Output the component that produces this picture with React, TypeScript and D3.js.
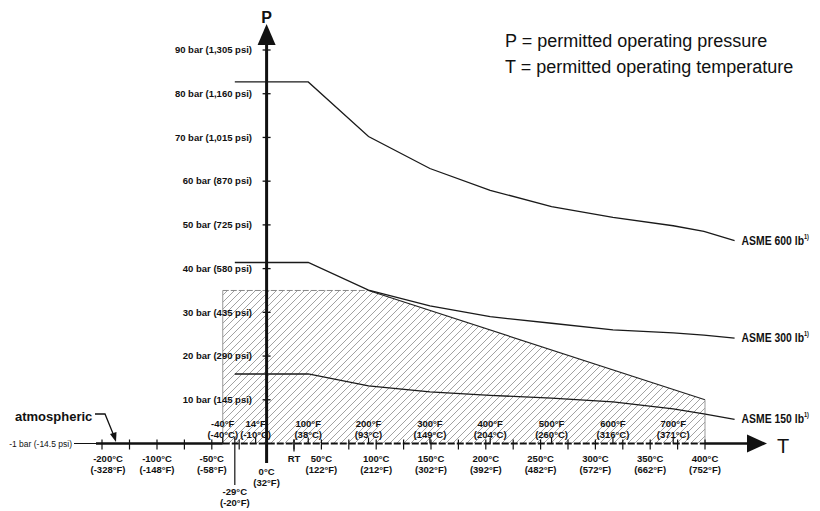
import React from "react";
import * as d3 from "d3";

// ---- data ----
const curveTemps = [-29, 38, 93, 149, 204, 260, 316, 371, 399, 427];
const asme600 = [82.7, 82.7, 70.2, 62.9, 57.9, 54.2, 51.7, 49.8, 48.5, 46.4];
const asme300 = [41.4, 41.4, 35.1, 31.5, 29.0, 27.5, 26.0, 25.3, 24.8, 24.1];
const asme150 = [15.9, 15.9, 13.2, 11.8, 11.0, 10.4, 9.5, 7.9, 6.8, 5.5];
const curveNames = ["ASME 600 lb", "ASME 300 lb", "ASME 150 lb"];

const hatchTemps = [-40, -40, 93, 400, 400];
const hatchP = [0, 35, 35, 10, 0];

const pTicks = [10, 20, 30, 40, 50, 60, 70, 80, 90];
const pLabels = [
  "10 bar (145 psi)",
  "20 bar (290 psi)",
  "30 bar (435 psi)",
  "40 bar (580 psi)",
  "50 bar (725 psi)",
  "60 bar (870 psi)",
  "70 bar (1,015 psi)",
  "80 bar (1,160 psi)",
  "90 bar (1,305 psi)",
];

const cTicks = [-200, -100, -50, 0, 50, 100, 150, 200, 250, 300, 350, 400];
const cLabels = ["-200°C", "-100°C", "-50°C", "0°C", "50°C", "100°C", "150°C", "200°C", "250°C", "300°C", "350°C", "400°C"];
const cLabelsF = ["(-328°F)", "(-148°F)", "(-58°F)", "(32°F)", "(122°F)", "(212°F)", "(302°F)", "(392°F)", "(482°F)", "(572°F)", "(662°F)", "(752°F)"];
const minorTicks = [-150, -75, -25, 25, 75, 125, 175, 225, 275, 325, 375];

const fTemps = [-40, -10, 38, 93, 149, 204, 260, 316, 371];
const fLabels = ["-40°F", "14°F", "100°F", "200°F", "300°F", "400°F", "500°F", "600°F", "700°F"];
const fLabelsC = ["(-40°C)", "(-10°C)", "(38°C)", "(93°C)", "(149°C)", "(204°C)", "(260°C)", "(316°C)", "(371°C)"];

const rtTemp = 25;
const minTemp = -29;
const axisLabel = "-1 bar (-14.5 psi)";

const FONT = "'Liberation Sans', Arial, Helvetica, sans-serif";

export default function App() {
  const W = 820;
  const H = 511;
  // broken temperature axis: -200..-100 compressed
  const x = d3.scaleLinear().domain([-200, -100, 400]).range([102, 157, 705]);
  const y = d3.scaleLinear().domain([0, 90]).range([443.5, 50]);
  const x0 = x(0);
  const yAxis = y(0);

  const line = d3
    .line<[number, number]>()
    .x((d) => x(d[0]))
    .y((d) => y(d[1]));

  const series = [asme600, asme300, asme150];
  const hatchPts: [number, number][] = hatchTemps.map((t, i) => [t, hatchP[i]]);

  return (
    <svg
      width={W}
      height={H}
      viewBox={`0 0 ${W} ${H}`}
      style={{ position: "absolute", left: 0, top: 0, background: "#fff" }}
      fontFamily={FONT}
    >
      <defs>
        <pattern id="hatch" patternUnits="userSpaceOnUse" width={7} height={7}>
          <path d="M-1,1 l2,-2 M0,7 l7,-7 M6,8 l2,-2" stroke="#8a8a8a" strokeWidth={0.8} />
        </pattern>
      </defs>
      <rect x={0} y={0} width={W} height={H} fill="#fff" />

      {/* hatched permitted region */}
      <path d={line(hatchPts) + "Z"} fill="url(#hatch)" stroke="none" />
      <line x1={x(hatchTemps[0])} x2={x(hatchTemps[1])} y1={y(hatchP[0])} y2={y(hatchP[1])} stroke="#999" strokeWidth={1} />
      <line x1={x(hatchTemps[1])} x2={x(hatchTemps[2])} y1={y(hatchP[1])} y2={y(hatchP[2])} stroke="#888" strokeWidth={1} strokeDasharray="6 2" />
      <line x1={x(hatchTemps[2])} x2={x(hatchTemps[3])} y1={y(hatchP[2])} y2={y(hatchP[3])} stroke="#222" strokeWidth={1.2} />
      <line x1={x(hatchTemps[3])} x2={x(hatchTemps[4])} y1={y(hatchP[3])} y2={y(hatchP[4])} stroke="#999" strokeWidth={1} />

      {/* curves */}
      {series.map((s, i) => (
        <path
          key={i}
          d={line(curveTemps.map((t, j) => [t, s[j]]) as [number, number][]) || ""}
          fill="none"
          stroke="#1a1a1a"
          strokeWidth={1.3}
        />
      ))}
      {series.map((s, i) => {
        const lx = x(curveTemps[curveTemps.length - 1]) + 7;
        const ly = y(s[s.length - 1]) + 4;
        return (
          <g key={"l" + i} transform={`translate(${lx},${ly}) scale(0.8,1)`}>
            <text x={0} y={0} fontSize={13} fontWeight="bold" fill="#111">
              {curveNames[i]}
              <tspan fontSize={7} dy={-6}>
                1)
              </tspan>
            </text>
          </g>
        );
      })}

      {/* P axis */}
      <line x1={x0} x2={x0} y1={463} y2={44} stroke="#111" strokeWidth={3} />
      <path d={`M${x0},24 L${x0 - 9},45 L${x0 + 9},45 Z`} fill="#111" />
      <text x={x0} y={23} fontSize={16} fontWeight="bold" textAnchor="middle" fill="#111">
        P
      </text>
      {pTicks.map((p, i) => (
        <g key={"p" + i}>
          <line x1={x0 - 4} x2={x0 + 4} y1={y(p)} y2={y(p)} stroke="#111" strokeWidth={1.3} />
          <text x={252} y={y(p) + 3.3} fontSize={9.5} fontWeight="bold" textAnchor="end" fill="#111">
            {pLabels[i]}
          </text>
        </g>
      ))}

      {/* T axis */}
      <line x1={74} x2={96} y1={yAxis} y2={yAxis} stroke="#111" strokeWidth={1} />
      <text x={72} y={yAxis + 3} fontSize={8.5} textAnchor="end" fill="#111">
        {axisLabel}
      </text>
      <line x1={96} x2={x(hatchTemps[0])} y1={yAxis} y2={yAxis} stroke="#111" strokeWidth={2.5} />
      <line x1={x(hatchTemps[0])} x2={x(400)} y1={yAxis} y2={yAxis} stroke="#111" strokeWidth={2.2} strokeDasharray="7 2" />
      <line x1={x(400)} x2={748} y1={yAxis} y2={yAxis} stroke="#111" strokeWidth={2.5} />
      <path d={`M767,${yAxis} L747,${yAxis - 9} L747,${yAxis + 9} Z`} fill="#111" />
      <text x={777} y={453} fontSize={20} fill="#111">
        T
      </text>

      {/* Celsius ticks & labels (below) */}
      {minorTicks.map((t, i) => (
        <line key={"m" + i} x1={x(t)} x2={x(t)} y1={yAxis - 4} y2={yAxis + 6} stroke="#111" strokeWidth={1.2} />
      ))}
      {cTicks.map((t, i) => {
        const isZero = t === 0;
        const b1 = isZero ? 475 : 462;
        return (
          <g key={"c" + i}>
            {!isZero && <line x1={x(t)} x2={x(t)} y1={yAxis - 4} y2={yAxis + 6} stroke="#111" strokeWidth={1.2} />}
            <text x={x(t) + (t === -200 ? 6 : 0)} y={b1} fontSize={9.5} fontWeight="bold" textAnchor="middle" fill="#111">
              {cLabels[i]}
            </text>
            <text x={x(t) + (t === -200 ? 6 : 0)} y={b1 + 11} fontSize={9.5} fontWeight="bold" textAnchor="middle" fill="#111">
              {cLabelsF[i]}
            </text>
          </g>
        );
      })}
      {/* RT */}
      <line x1={x(rtTemp)} x2={x(rtTemp)} y1={yAxis - 4} y2={yAxis + 8} stroke="#111" strokeWidth={1.2} />
      <text x={x(rtTemp)} y={462} fontSize={9.5} fontWeight="bold" textAnchor="middle" fill="#111">
        RT
      </text>
      {/* -29 °C */}
      <line x1={x(minTemp)} x2={x(minTemp)} y1={437} y2={485} stroke="#111" strokeWidth={1.2} />
      <text x={x(minTemp)} y={495} fontSize={9.5} fontWeight="bold" textAnchor="middle" fill="#111">
        -29°C
      </text>
      <text x={x(minTemp)} y={506} fontSize={9.5} fontWeight="bold" textAnchor="middle" fill="#111">
        (-20°F)
      </text>

      {/* Fahrenheit labels (above) */}
      {fTemps.map((t, i) => (
        <g key={"f" + i}>
          <line x1={x(t)} x2={x(t)} y1={yAxis - 6} y2={yAxis} stroke="#111" strokeWidth={1.2} />
          <text x={x(t)} y={427} fontSize={9.5} fontWeight="bold" textAnchor="middle" fill="#111">
            {fLabels[i]}
          </text>
          <text x={x(t)} y={437.5} fontSize={9.5} fontWeight="bold" textAnchor="middle" fill="#111">
            {fLabelsC[i]}
          </text>
        </g>
      ))}

      {/* atmospheric */}
      <text x={15} y={421} fontSize={13} fontWeight="bold" fill="#111">
        atmospheric
      </text>
      <path d="M95,414 L105,414 L114,436" fill="none" stroke="#111" strokeWidth={1.3} />
      <path d="M116,442 L110,434 L116.5,432 Z" fill="#111" />

      {/* legend text */}
      <text x={505} y={46.5} fontSize={18} fill="#111">
        P = permitted operating pressure
      </text>
      <text x={505} y={72.5} fontSize={18} fill="#111">
        T = permitted operating temperature
      </text>
    </svg>
  );
}
